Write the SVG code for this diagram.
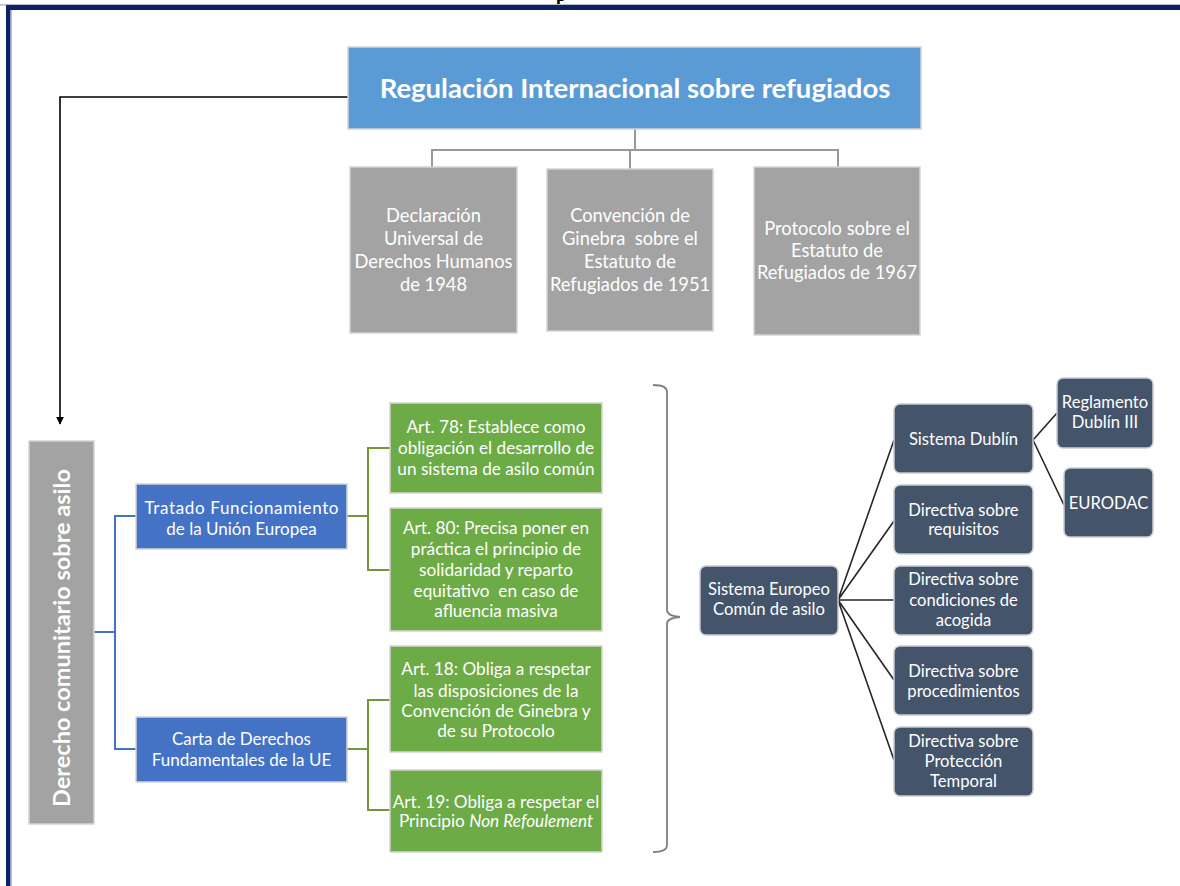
<svg xmlns="http://www.w3.org/2000/svg" width="1180" height="886" viewBox="0 0 1180 886">
<defs>
<style>
.t{font-family:Lato,"Liberation Sans",sans-serif;fill:#ffffff;text-anchor:middle}
.pre{white-space:pre}
.box{stroke:#d4d4d4;stroke-width:1.5}
.gray{fill:#a3a3a3}
.blue{fill:#4472c4}
.green{fill:#6cab46}
.dark{fill:#44546a;stroke:#c8ccd2;stroke-width:1.5}
.cg{fill:none;stroke:#999999;stroke-width:2}
.cb{fill:none;stroke:#4472c4;stroke-width:2}
.cgr{fill:none;stroke:#77933c;stroke-width:2}
.cd{fill:none;stroke:#262626;stroke-width:1.6}
.fs-g{font-size:18.3px}
.fs-b{font-size:17px}
.fs-gr{font-size:17.2px}
.fs-d{font-size:16.6px}
</style>
<marker id="ah" viewBox="0 0 10 10" refX="9" refY="5" markerWidth="5" markerHeight="5" orient="auto"><path d="M0,0 L10,5 L0,10 z" fill="#000"/></marker>
</defs>
<rect width="1180" height="886" fill="#ffffff"/>
<text x="556" y="1" font-family="Liberation Serif,serif" font-weight="bold" font-size="18" fill="#000">p</text>
<g id="frame">
<rect x="0" y="4" width="1180" height="1.5" fill="#b8bcc8"/>
<rect x="6" y="5" width="1174" height="5" fill="#0b2266"/>
<rect x="6" y="5" width="4.5" height="881" fill="#0b2266"/>
<rect x="10.5" y="10" width="1.2" height="876" fill="#9aa4c0"/>
</g>
<g id="connectors">
<path class="cg" d="M635,129 V150 M432,167 V150 H838 V167 M630,150 V169"/>
<path d="M348,97 H60 V424" fill="none" stroke="#000" stroke-width="1.6" marker-end="url(#ah)"/>
<path class="cb" d="M94,632 H115 M136,516 H115 V749 H136"/>
<path class="cgr" d="M347,516 H368 M390,448 H368 V570 H390"/>
<path class="cgr" d="M347,749 H368 M390,700 H368 V810 H390"/>
<path d="M653,385 Q667,385 667,392 V610 Q667,616 680,617 Q667,618 667,624 V845 Q667,852 653,852" fill="none" stroke="#7f7f7f" stroke-width="1.8"/>
<path class="cd" d="M838,600 L894,440 M838,600 L894,521 M838,600 H894 M838,600 L894,680 M838,600 L894,760"/>
<path class="cd" d="M1033,440 L1057,413 M1033,440 L1064,505"/>
</g>
<g id="n-title">
<rect class="box" x="348" y="47" width="573" height="82" fill="#5b9bd5"/>
<text class="t" x="635" y="98" font-size="27.5" font-weight="bold">Regulación Internacional sobre refugiados</text>
</g>
<g id="n-dudh">
<rect class="box gray" x="350" y="167" width="167" height="166"/>
<text class="t fs-g"><tspan x="433.5" y="222">Declaración</tspan><tspan x="433.5" y="245">Universal de</tspan><tspan x="433.5" y="268">Derechos Humanos</tspan><tspan x="433.5" y="291">de 1948</tspan></text>
</g>
<g id="n-ginebra">
<rect class="box gray" x="547" y="169" width="166" height="162"/>
<text class="t fs-g pre"><tspan x="630" y="222">Convención de</tspan><tspan x="630" y="245">Ginebra  sobre el</tspan><tspan x="630" y="268">Estatuto de</tspan><tspan x="630" y="291">Refugiados de 1951</tspan></text>
</g>
<g id="n-protocolo">
<rect class="box gray" x="754" y="167" width="166" height="168"/>
<text class="t fs-g"><tspan x="837" y="235">Protocolo sobre el</tspan><tspan x="837" y="257">Estatuto de</tspan><tspan x="837" y="279">Refugiados de 1967</tspan></text>
</g>
<g id="n-derecho">
<rect class="box gray" x="29" y="441" width="65" height="383"/>
<text class="t" font-size="23.5" font-weight="bold" transform="translate(70,638) rotate(-90)" x="0" y="0">Derecho comunitario sobre asilo</text>
</g>
<g id="n-tfue">
<rect class="box blue" x="136" y="484" width="211" height="65"/>
<text class="t fs-b"><tspan x="241.5" y="514" textLength="194" lengthAdjust="spacing">Tratado Funcionamiento</tspan><tspan x="241.5" y="535">de la Unión Europea</tspan></text>
</g>
<g id="n-carta">
<rect class="box blue" x="136" y="717" width="211" height="65"/>
<text class="t fs-b"><tspan x="241.5" y="745">Carta de Derechos</tspan><tspan x="241.5" y="766">Fundamentales de la UE</tspan></text>
</g>
<g id="n-art78">
<rect class="box green" x="390" y="403" width="212" height="90"/>
<text class="t fs-gr"><tspan x="496" y="433">Art. 78: Establece como</tspan><tspan x="496" y="454">obligación el desarrollo de</tspan><tspan x="496" y="475">un sistema de asilo común</tspan></text>
</g>
<g id="n-art80">
<rect class="box green" x="390" y="508" width="212" height="123"/>
<text class="t fs-gr pre"><tspan x="496" y="534">Art. 80: Precisa poner en</tspan><tspan x="496" y="555">práctica el principio de</tspan><tspan x="496" y="576">solidaridad y reparto</tspan><tspan x="496" y="597">equitativo  en caso de</tspan><tspan x="496" y="617">afluencia masiva</tspan></text>
</g>
<g id="n-art18">
<rect class="box green" x="390" y="646" width="212" height="106"/>
<text class="t fs-gr"><tspan x="496" y="675">Art. 18: Obliga a respetar</tspan><tspan x="496" y="697">las disposiciones de la</tspan><tspan x="496" y="717">Convención de Ginebra y</tspan><tspan x="496" y="737">de su Protocolo</tspan></text>
</g>
<g id="n-art19">
<rect class="box green" x="390" y="770" width="212" height="82"/>
<text class="t fs-gr"><tspan x="496" y="808">Art. 19: Obliga a respetar el</tspan><tspan x="496" y="827">Principio <tspan font-style="italic">Non Refoulement</tspan></tspan></text>
</g>
<g id="n-seca">
<rect class="dark" x="700" y="566" width="138" height="69" rx="6"/>
<text class="t fs-d"><tspan x="769" y="595">Sistema Europeo</tspan><tspan x="769" y="615">Común de asilo</tspan></text>
</g>
<g id="n-dublin">
<rect class="dark" x="894" y="404" width="139" height="69" rx="6"/>
<text class="t fs-d" x="963.5" y="445">Sistema Dublín</text>
</g>
<g id="n-requisitos">
<rect class="dark" x="894" y="485" width="139" height="69" rx="6"/>
<text class="t fs-d"><tspan x="963.5" y="516">Directiva sobre</tspan><tspan x="963.5" y="535">requisitos</tspan></text>
</g>
<g id="n-acogida">
<rect class="dark" x="894" y="566" width="139" height="69" rx="6"/>
<text class="t fs-d"><tspan x="963.5" y="585">Directiva sobre</tspan><tspan x="963.5" y="606">condiciones de</tspan><tspan x="963.5" y="626">acogida</tspan></text>
</g>
<g id="n-procedimientos">
<rect class="dark" x="894" y="646" width="139" height="69" rx="6"/>
<text class="t fs-d"><tspan x="963.5" y="677">Directiva sobre</tspan><tspan x="963.5" y="697">procedimientos</tspan></text>
</g>
<g id="n-temporal">
<rect class="dark" x="894" y="727" width="139" height="69" rx="6"/>
<text class="t fs-d"><tspan x="963.5" y="747">Directiva sobre</tspan><tspan x="963.5" y="767">Protección</tspan><tspan x="963.5" y="787">Temporal</tspan></text>
</g>
<g id="n-dublin3">
<rect class="dark" x="1057" y="378" width="96" height="70" rx="6"/>
<text class="t fs-d"><tspan x="1105" y="408">Reglamento</tspan><tspan x="1105" y="428">Dublín III</tspan></text>
</g>
<g id="n-eurodac">
<rect class="dark" x="1064" y="468" width="89" height="69" rx="6"/>
<text class="t fs-d" x="1108.5" y="509">EURODAC</text>
</g>
</svg>
